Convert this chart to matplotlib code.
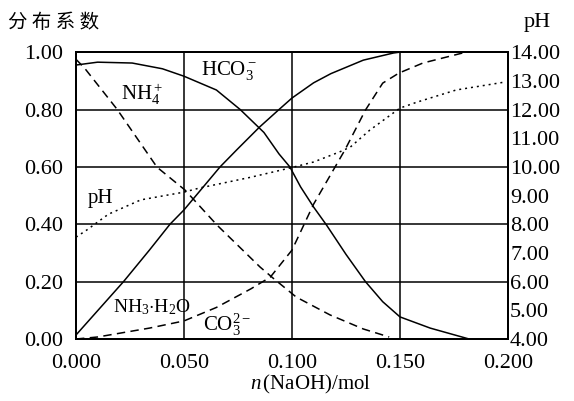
import matplotlib
matplotlib.use('Agg')
import matplotlib.pyplot as plt

plt.rcParams['font.family'] = ['Liberation Serif', 'Noto Sans CJK SC']
plt.rcParams['mathtext.fontset'] = 'custom'
plt.rcParams['mathtext.rm'] = 'Liberation Serif'
plt.rcParams['mathtext.it'] = 'Liberation Serif:italic'

# --- data ---
x_ticks = [0.000, 0.050, 0.100, 0.150, 0.200]
x_tick_labels = ['0.000', '0.050', '0.100', '0.150', '0.200']
y_ticks = [0.0, 0.2, 0.4, 0.6, 0.8, 1.0]
y_tick_labels = ['0.00', '0.20', '0.40', '0.60', '0.80', '1.00']
ph_ticks = [4, 5, 6, 7, 8, 9, 10, 11, 12, 13, 14]
ph_tick_labels = ['4.00', '5.00', '6.00', '7.00', '8.00', '9.00',
                  '10.00', '11.00', '12.00', '13.00', '14.00']

# HCO3- (solid)
hco3_x = [0.000, 0.010, 0.026, 0.040, 0.050, 0.065, 0.076, 0.087, 0.094,
          0.099, 0.104, 0.110, 0.116, 0.125, 0.134, 0.142, 0.150, 0.164, 0.182]
hco3_y = [0.955, 0.965, 0.962, 0.942, 0.916, 0.868, 0.800, 0.720, 0.645,
          0.600, 0.530, 0.460, 0.397, 0.295, 0.200, 0.130, 0.077, 0.038, 0.000]

# NH4+ (dashed)
nh4_x = [0.000, 0.004, 0.019, 0.0375, 0.0505, 0.0653, 0.0852, 0.0912,
         0.102, 0.1176, 0.133, 0.145]
nh4_y = [0.975, 0.944, 0.801, 0.599, 0.519, 0.397, 0.251, 0.2125,
         0.146, 0.084, 0.035, 0.007]

# NH3.H2O (solid)
nh3_x = [0.000, 0.022, 0.034, 0.0435, 0.050, 0.0667, 0.0745, 0.085, 0.094,
         0.100, 0.110, 0.118, 0.133, 0.147, 0.150]
nh3_y = [0.014, 0.200, 0.310, 0.400, 0.450, 0.600, 0.660, 0.739, 0.800,
         0.840, 0.893, 0.925, 0.972, 0.997, 1.000]

# CO3^2- (dashed)
co3_x = [0.000, 0.010, 0.034, 0.050, 0.065, 0.081, 0.090, 0.100, 0.110,
         0.1245, 0.134, 0.142, 0.1495, 0.1606, 0.179]
co3_y = [0.000, 0.007, 0.038, 0.063, 0.110, 0.175, 0.216, 0.310, 0.470,
         0.659, 0.798, 0.892, 0.927, 0.962, 0.997]

# pH (dotted, right axis)
ph_x = [0.000, 0.005, 0.015, 0.030, 0.050, 0.057, 0.081, 0.099, 0.110,
        0.122, 0.127, 0.136, 0.150, 0.158, 0.176, 0.198]
ph_y = [7.55, 7.80, 8.35, 8.85, 9.12, 9.26, 9.64, 9.96, 10.17,
        10.52, 10.69, 11.28, 12.05, 12.26, 12.68, 12.95]

fig = plt.figure(figsize=(5.74, 4.01), dpi=100)
ax = fig.add_axes([0.1324, 0.1546, 0.7526, 0.7154])
ax2 = ax.twinx()

lw = 1.1
ax.plot(hco3_x, hco3_y, color='black', lw=lw)
ax.plot(nh3_x, nh3_y, color='black', lw=lw)
ax.plot(nh4_x, nh4_y, color='black', lw=lw, dashes=(5.5, 3.5))
ax.plot(co3_x, co3_y, color='black', lw=lw, dashes=(5.5, 3.5))
ax2.plot(ph_x, ph_y, color='black', lw=lw, dashes=(1.3, 2.6))

ax.set_xlim(0, 0.2)
ax.set_ylim(0, 1)
ax2.set_ylim(4, 14)

ax.set_xticks(x_ticks, x_tick_labels)
ax.set_yticks(y_ticks, y_tick_labels)
ax2.set_yticks(ph_ticks, ph_tick_labels)
ax.tick_params(length=0, labelsize=16)
ax.tick_params(axis='y', pad=9)
ax.tick_params(axis='x', pad=11)
ax2.tick_params(length=0, labelsize=16, pad=1.5)
ax.grid(True, color='black', lw=1.1)

for a in (ax, ax2):
    for s in a.spines.values():
        s.set_linewidth(1.4)

# x axis title
fig.text(311 / 574, 0.040, r'$n\,$(NaOH)/mol', fontsize=15, ha='center', va='center')

fs = 15
ax.text(0.058, 0.935, r'$\mathrm{HCO_3^-}$', fontsize=fs, ha='left', va='center')
ax.text(0.021, 0.852, r'$\mathrm{NH_4^+}$', fontsize=fs, ha='left', va='center')
ax.text(0.0055, 0.49, 'pH', fontsize=fs, ha='left', va='center')
ax.text(0.017, 0.112, r'$\mathrm{NH_3{\cdot}H_2O}$', fontsize=fs - 1, ha='left', va='center')
ax.text(0.059, 0.05, r'$\mathrm{CO_3^{2-}}$', fontsize=fs, ha='left', va='center')

fig.text(0.014, 0.943, '分 布 系 数', fontsize=14,
         family=['Noto Sans CJK SC'], ha='left', va='center')
fig.text(0.913, 0.945, 'pH', fontsize=16, ha='left', va='center')

fig.savefig('out.png', dpi=100)
